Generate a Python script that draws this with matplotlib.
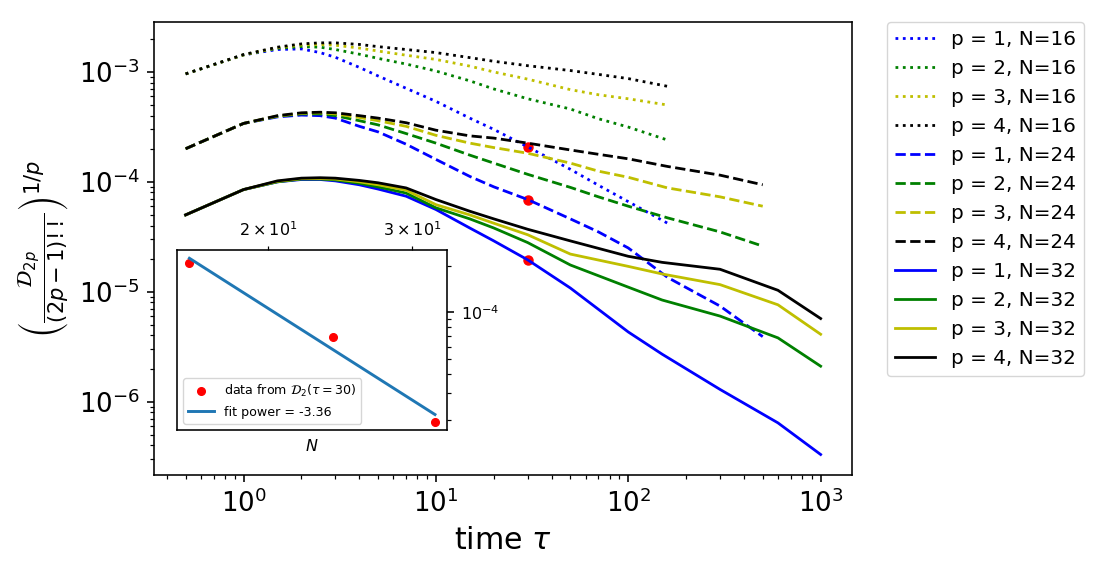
import matplotlib
matplotlib.use('Agg')
import matplotlib.pyplot as plt
import numpy as np

# time grids for each system size
t16 = [0.5, 1, 1.5, 2, 2.5, 3, 4, 5, 7, 10, 15, 20, 30, 50, 70, 100, 160]
t24 = [0.5, 1, 1.5, 2, 2.5, 3, 4, 5, 7, 10, 15, 20, 30, 50, 70, 100, 160, 300, 500]
t32 = [0.5, 1, 1.5, 2, 2.5, 3, 4, 5, 7, 10, 15, 20, 30, 50, 100, 150, 300, 600, 1000]

# N = 16, p = 1..4
n16_p1 = [9.6e-4, 1.43e-3, 1.6e-3, 1.62e-3, 1.5e-3, 1.36e-3, 1.1e-3, 9.2e-4, 7.1e-4, 5.4e-4,
          3.8e-4, 3.0e-4, 2.08e-4, 1.3e-4, 9.3e-5, 6.6e-5, 4.2e-5]
n16_p2 = [9.6e-4, 1.43e-3, 1.64e-3, 1.7e-3, 1.68e-3, 1.6e-3, 1.45e-3, 1.33e-3, 1.18e-3, 1.02e-3,
          8.3e-4, 7.0e-4, 5.7e-4, 4.6e-4, 3.75e-4, 3.15e-4, 2.4e-4]
n16_p3 = [9.6e-4, 1.43e-3, 1.66e-3, 1.76e-3, 1.78e-3, 1.75e-3, 1.65e-3, 1.55e-3, 1.42e-3, 1.3e-3,
          1.13e-3, 1.0e-3, 8.6e-4, 6.9e-4, 6.2e-4, 5.7e-4, 5.0e-4]
n16_p4 = [9.6e-4, 1.44e-3, 1.68e-3, 1.8e-3, 1.84e-3, 1.84e-3, 1.78e-3, 1.7e-3, 1.6e-3, 1.5e-3,
          1.35e-3, 1.25e-3, 1.14e-3, 1.03e-3, 9.5e-4, 8.7e-4, 7.4e-4]

# N = 24
n24_p1 = [2.0e-4, 3.4e-4, 3.9e-4, 4.05e-4, 4.0e-4, 3.8e-4, 3.2e-4, 2.85e-4, 2.2e-4, 1.6e-4,
          1.12e-4, 9.0e-5, 6.9e-5, 4.6e-5, 3.5e-5, 2.5e-5, 1.35e-5, 7.4e-6, 3.9e-6]
n24_p2 = [2.0e-4, 3.4e-4, 3.95e-4, 4.15e-4, 4.15e-4, 4.0e-4, 3.6e-4, 3.3e-4, 2.75e-4, 2.25e-4,
          1.75e-4, 1.48e-4, 1.17e-4, 8.9e-5, 7.3e-5, 6.0e-5, 4.7e-5, 3.5e-5, 2.6e-5]
n24_p3 = [2.0e-4, 3.4e-4, 3.97e-4, 4.2e-4, 4.25e-4, 4.15e-4, 3.85e-4, 3.6e-4, 3.2e-4, 2.65e-4,
          2.25e-4, 2.05e-4, 1.82e-4, 1.48e-4, 1.25e-4, 1.1e-4, 8.8e-5, 7.3e-5, 6.0e-5]
n24_p4 = [2.0e-4, 3.4e-4, 4.0e-4, 4.25e-4, 4.3e-4, 4.25e-4, 4.0e-4, 3.8e-4, 3.45e-4, 2.95e-4,
          2.62e-4, 2.5e-4, 2.25e-4, 1.95e-4, 1.78e-4, 1.62e-4, 1.38e-4, 1.15e-4, 9.4e-5]

# N = 32
n32_p1 = [5.0e-5, 8.5e-5, 1.0e-4, 1.05e-4, 1.05e-4, 1.02e-4, 9.4e-5, 8.6e-5, 7.4e-5, 5.6e-5,
          3.8e-5, 2.9e-5, 1.95e-5, 1.08e-5, 4.3e-6, 2.7e-6, 1.29e-6, 6.4e-7, 3.3e-7]
n32_p2 = [5.0e-5, 8.5e-5, 1.0e-4, 1.06e-4, 1.06e-4, 1.04e-4, 9.7e-5, 9.0e-5, 7.9e-5, 5.8e-5,
          4.6e-5, 3.8e-5, 2.8e-5, 1.75e-5, 1.1e-5, 8.4e-6, 6.0e-6, 3.8e-6, 2.1e-6]
n32_p3 = [5.0e-5, 8.5e-5, 1.01e-4, 1.07e-4, 1.07e-4, 1.06e-4, 1.0e-4, 9.4e-5, 8.4e-5, 6.2e-5,
          5.0e-5, 4.2e-5, 3.3e-5, 2.2e-5, 1.7e-5, 1.45e-5, 1.16e-5, 7.6e-6, 4.1e-6]
n32_p4 = [5.0e-5, 8.5e-5, 1.02e-4, 1.08e-4, 1.09e-4, 1.08e-4, 1.03e-4, 9.8e-5, 8.8e-5, 6.9e-5,
          5.4e-5, 4.6e-5, 3.7e-5, 2.9e-5, 2.1e-5, 1.85e-5, 1.6e-5, 1.03e-5, 5.7e-6]

sizes = [16, 24, 32]
times = [t16, t24, t32]
curves = [[n16_p1, n16_p2, n16_p3, n16_p4],
          [n24_p1, n24_p2, n24_p3, n24_p4],
          [n32_p1, n32_p2, n32_p3, n32_p4]]
styles = [':', '--', '-']
colors = ['b', 'g', 'y', 'k']
tau_fit = 30

s = 1.44  # the original was drawn at a higher dpi
plt.rcParams.update({
    'axes.linewidth': 0.8 * s,
    'xtick.major.size': 3.5 * s, 'ytick.major.size': 3.5 * s,
    'xtick.minor.size': 2 * s, 'ytick.minor.size': 2 * s,
    'xtick.major.width': 0.8 * s, 'ytick.major.width': 0.8 * s,
    'xtick.minor.width': 0.6 * s, 'ytick.minor.width': 0.6 * s,
    'xtick.major.pad': 3.5 * s, 'ytick.major.pad': 3.5 * s,
    'xtick.minor.pad': 3.4 * s, 'ytick.minor.pad': 3.4 * s,
    'axes.labelpad': 4 * s,
    'legend.fontsize': 10 * s,
})

fig = plt.figure(figsize=(11.07, 5.71), dpi=100)
ax = fig.add_axes([0.139, 0.168, 0.631, 0.793])

# red dots: D_2 at tau = 30 for each N
d2_at_tau = []
for t, c in zip(times, curves):
    d2_at_tau.append(c[0][t.index(tau_fit)])
ax.plot([tau_fit] * 3, d2_at_tau, 'o', color='red', markersize=6.5, zorder=1)

for t, group, ls, N in zip(times, curves, styles, sizes):
    for p, (y, col) in enumerate(zip(group, colors), start=1):
        ax.plot(t, y, ls, color=col, lw=2.0, label="p = %d, N=%d" % (p, N), zorder=2)

ax.set_xscale('log')
ax.set_yscale('log')
ax.set_xlabel(r"time $\tau$", fontsize=15 * s)
ax.set_ylabel(r"$\left(\frac{\mathcal{D}_{2p}}{(2p-1)!!}\right)^{1/p}$", fontsize=15 * s)
ax.tick_params(axis='both', which='major', labelsize=13 * s)
ax.legend(loc='upper left', bbox_to_anchor=(1.05, 1.0), borderaxespad=0)

# inset: finite size scaling of D_2(tau=30)
ins = fig.add_axes([0.160, 0.247, 0.244, 0.315])
logN = np.log10(sizes)
logD = np.log10(d2_at_tau)
slope, icpt = np.polyfit(logN, logD, 1)
ins.plot(sizes, d2_at_tau, 'o', color='red', markersize=5.5,
         label=r"data from $\mathcal{D}_2(\tau=30)$")
ins.plot(sizes, 10 ** (icpt + slope * logN), lw=2.1, color='tab:blue',
         label="fit power = %.2f" % -3.36)
ins.set_xscale('log')
ins.set_yscale('log')
ins.xaxis.tick_top()
ins.yaxis.tick_right()
ins.set_xlabel(r"$N$", fontsize=8 * s)
ins.tick_params(axis='both', which='both', labelsize=8 * s)
ins.legend(loc='lower left', fontsize=6.3 * s)

plt.savefig("out.png", dpi=100)
plt.close()
